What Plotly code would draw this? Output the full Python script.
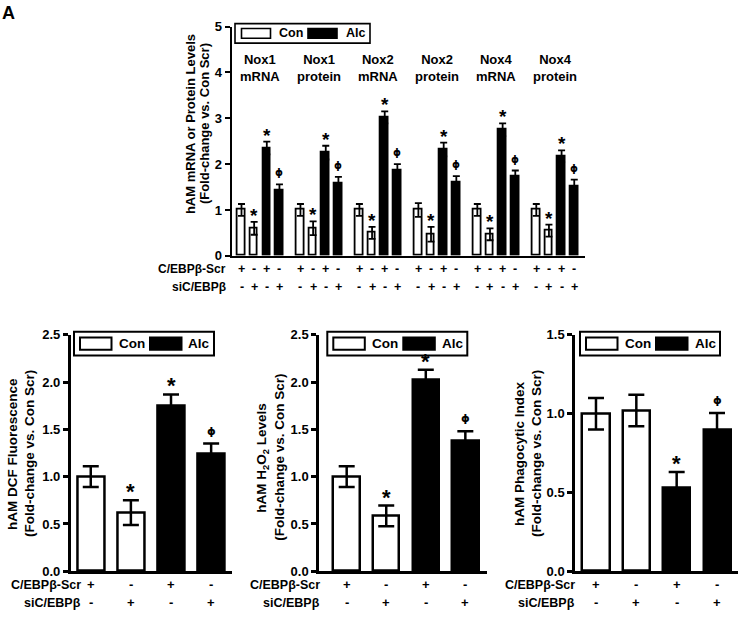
import plotly.graph_objects as go

W, H = 740, 619


def px(x):
    return x / W


def py(y):
    return 1 - y / H


# ---------------- data ----------------
top_groups = ["Nox1<br>mRNA", "Nox1<br>protein", "Nox2<br>mRNA",
              "Nox2<br>protein", "Nox4<br>mRNA", "Nox4<br>protein"]
top_con_scr = [1.00, 1.00, 1.00, 1.00, 1.00, 1.00]
top_con_si = [0.60, 0.60, 0.50, 0.47, 0.47, 0.55]
top_alc_scr = [2.35, 2.25, 3.02, 2.32, 2.75, 2.17]
top_alc_si = [1.42, 1.58, 1.86, 1.59, 1.73, 1.52]
top_con_scr_err = [0.13, 0.13, 0.13, 0.15, 0.13, 0.13]
top_con_si_err = [0.14, 0.15, 0.13, 0.16, 0.13, 0.13]
top_alc_scr_err = [0.14, 0.15, 0.13, 0.15, 0.14, 0.13]
top_alc_si_err = [0.14, 0.14, 0.14, 0.15, 0.13, 0.14]
top_marks = ["", "*", "*", "ϕ"]

scr_signs = ["+", "-", "+", "-"]
si_signs = ["-", "+", "-", "+"]
row_labels = ["C/EBPβ-Scr", "siC/EBPβ"]
legend_labels = ["Con", "Alc"]

dcf_vals = [1.00, 0.62, 1.75, 1.24]
dcf_err = [0.11, 0.13, 0.12, 0.11]
dcf_marks = ["", "*", "*", "ϕ"]

h2o2_vals = [1.00, 0.585, 2.02, 1.375]
h2o2_err = [0.11, 0.11, 0.11, 0.105]
h2o2_marks = ["", "*", "*", "ϕ"]

phago_vals = [1.00, 1.02, 0.53, 0.90]
phago_err = [0.10, 0.10, 0.10, 0.105]
phago_marks = ["", "", "*", "ϕ"]

FONT = "Liberation Sans, Arial, Helvetica, sans-serif"
PHI_FONT = "DejaVu Sans, sans-serif"

fig = go.Figure()
shapes = []
annotations = []


def ann(text, x, y, size=12, xanchor="center", yanchor="middle", angle=0,
        xref="paper", yref="paper", weight="bold", yshift=0, family=FONT):
    annotations.append(dict(
        text=text, x=x, y=y, xref=xref, yref=yref, showarrow=False,
        xanchor=xanchor, yanchor=yanchor, textangle=angle, yshift=yshift,
        font=dict(family=family, size=size, color="black", weight=weight)))


def mark(sym, x, y, xref, yref, star_size, phi_size):
    if sym == "*":
        ann(sym, x, y, xref=xref, yref=yref, size=star_size, yanchor="bottom",
            weight="bold", yshift=-6)
    else:
        ann(sym, x, y, xref=xref, yref=yref, size=phi_size, yanchor="bottom",
            weight="bold", yshift=4, family=PHI_FONT)


def legend_box(left, top, w, h, sw, sh, pad, gap_txt, blk_off, size, bw):
    shapes.append(dict(type="rect", xref="paper", yref="paper",
                       x0=px(left), x1=px(left + w), y0=py(top), y1=py(top + h),
                       line=dict(color="black", width=bw), fillcolor="white"))
    cy = top + h / 2
    shapes.append(dict(type="rect", xref="paper", yref="paper",
                       x0=px(left + pad), x1=px(left + pad + sw),
                       y0=py(cy - sh / 2), y1=py(cy + sh / 2),
                       line=dict(color="black", width=bw), fillcolor="white"))
    ann(legend_labels[0], px(left + pad + sw + gap_txt), py(cy), size=size,
        xanchor="left")
    shapes.append(dict(type="rect", xref="paper", yref="paper",
                       x0=px(left + blk_off), x1=px(left + blk_off + sw),
                       y0=py(cy - sh / 2), y1=py(cy + sh / 2),
                       line=dict(color="black", width=bw), fillcolor="black"))
    ann(legend_labels[1], px(left + blk_off + sw + gap_txt), py(cy), size=size,
        xanchor="left")


# ---------------- top panel ----------------
GS = 4.66  # group step in bar units
top_sets = [(top_con_scr, top_con_scr_err), (top_con_si, top_con_si_err),
            (top_alc_scr, top_alc_scr_err), (top_alc_si, top_alc_si_err)]
con_x, con_y, con_e, alc_x, alc_y, alc_e = [], [], [], [], [], []
for gi in range(len(top_groups)):
    for j, (vals, errs) in enumerate(top_sets):
        xpos = gi * GS + j
        if j < 2:
            con_x.append(xpos); con_y.append(vals[gi]); con_e.append(errs[gi])
        else:
            alc_x.append(xpos); alc_y.append(vals[gi]); alc_e.append(errs[gi])
        if top_marks[j]:
            mark(top_marks[j], xpos, vals[gi] + errs[gi], "x", "y", 19, 10)
        ann(scr_signs[j], xpos, py(268.5), xref="x", size=12.5)
        ann(si_signs[j], xpos, py(286.5), xref="x", size=12.5)
    ann(top_groups[gi], gi * GS + 1.5, py(62.5), xref="x", size=13)

fig.add_trace(go.Bar(x=con_x, y=con_y, width=0.6, xaxis="x", yaxis="y",
                     marker=dict(color="white", line=dict(color="black", width=1.8)),
                     error_y=dict(type="data", array=con_e, color="black",
                                  thickness=1.8, width=3.5),
                     showlegend=False))
fig.add_trace(go.Bar(x=alc_x, y=alc_y, width=0.6, xaxis="x", yaxis="y",
                     marker=dict(color="black", line=dict(color="black", width=1.8)),
                     error_y=dict(type="data", array=alc_e, color="black",
                                  thickness=1.8, width=3.5),
                     showlegend=False))

ann(row_labels[0], px(228), py(268.5), size=12, xanchor="right")
ann(row_labels[1], px(228), py(286.5), size=12, xanchor="right")
ann("hAM mRNA or Protein Levels", px(190), py(120), size=13, angle=-90)
ann("(Fold-change vs. Con Scr)", px(204), py(120), size=13, angle=-90)
legend_box(235, 17, 135, 20, 29, 10, 6.5, 6.5, 73, 12.5, 1.6)

# ---------------- bottom panels ----------------
bottom = [
    dict(vals=dcf_vals, err=dcf_err, marks=dcf_marks, ax=2, x0=70.7, x1=232,
         rng=[-0.5, 3.52], ymax=2.5, dtick=0.5,
         t1="hAM DCF Fluorescence", tx=(13, 30), ty=458, lab_r=83, leg=74),
    dict(vals=h2o2_vals, err=h2o2_err, marks=h2o2_marks, ax=3, x0=319, x1=486.7,
         rng=[-0.7, 3.54], ymax=2.5, dtick=0.5,
         t1="hAM H<sub>2</sub>O<sub>2</sub> Levels", tx=(263, 280), ty=462,
         lab_r=322, leg=327.3),
    dict(vals=phago_vals, err=phago_err, marks=phago_marks, ax=4, x0=575, x1=738,
         rng=[-0.52, 3.52], ymax=1.5, dtick=0.5,
         t1="hAM Phagocytic Index", tx=(520, 537), ty=458, lab_r=577, leg=580),
]

for p in bottom:
    n = p["ax"]
    xa, ya = f"x{n}", f"y{n}"
    fig.add_trace(go.Bar(x=[0, 1], y=p["vals"][:2], width=0.67, xaxis=xa, yaxis=ya,
                         marker=dict(color="white", line=dict(color="black", width=2.5)),
                         error_y=dict(type="data", array=p["err"][:2], color="black",
                                      thickness=2.5, width=8),
                         showlegend=False))
    fig.add_trace(go.Bar(x=[2, 3], y=p["vals"][2:], width=0.67, xaxis=xa, yaxis=ya,
                         marker=dict(color="black", line=dict(color="black", width=2.5)),
                         error_y=dict(type="data", array=p["err"][2:], color="black",
                                      thickness=2.5, width=8),
                         showlegend=False))
    for j in range(4):
        if p["marks"][j]:
            mark(p["marks"][j], j, p["vals"][j] + p["err"][j], xa, ya, 22, 11)
        ann(scr_signs[j], j, py(592), xref=xa, size=13)
        ann(si_signs[j], j, py(610.5), xref=xa, size=13)
    ann(row_labels[0], px(p["lab_r"]), py(592), size=12.5, xanchor="right")
    ann(row_labels[1], px(p["lab_r"]), py(610.5), size=12.5, xanchor="right")
    ann(p["t1"], px(p["tx"][0]), py(p["ty"]), size=13.5, angle=-90)
    ann("(Fold-change vs. Con Scr)", px(p["tx"][1]), py(p["ty"]), size=13.5, angle=-90)
    legend_box(p["leg"], 332.7, 140, 24.5, 31.5, 12.5, 6, 5, 76, 13.5, 2)

# panel letter
ann("A", px(8), py(6), size=18)

tickfont = dict(family=FONT, size=13, color="black", weight="bold")
layout = dict(
    width=W, height=H, margin=dict(l=0, r=0, t=0, b=0), autosize=False,
    paper_bgcolor="white", plot_bgcolor="white",
    bargap=0, barmode="overlay",
    shapes=shapes, annotations=annotations, showlegend=False,
    xaxis=dict(domain=[px(231.5), px(585)], range=[-0.79, 27.15], anchor="y",
               showline=True, linecolor="black", linewidth=2, showgrid=False,
               zeroline=False, showticklabels=False, ticks="", fixedrange=True),
    yaxis=dict(domain=[py(255), py(20)], range=[0, 5], dtick=1, anchor="x",
               showline=True, linecolor="black", linewidth=2, showgrid=False,
               zeroline=False, ticks="outside", ticklen=5, tickwidth=2,
               tickcolor="black", tickfont=tickfont),
)
for p in bottom:
    n = p["ax"]
    layout[f"xaxis{n}"] = dict(domain=[px(p["x0"]), px(p["x1"])], range=p["rng"],
                               anchor=f"y{n}", showline=True, linecolor="black",
                               linewidth=2.5, showgrid=False, zeroline=False,
                               showticklabels=False, ticks="")
    layout[f"yaxis{n}"] = dict(domain=[py(578.3), py(336)], range=[0, p["ymax"]],
                               dtick=p["dtick"], tickformat=".1f", anchor=f"x{n}",
                               showline=True, linecolor="black", linewidth=2.5,
                               showgrid=False, zeroline=False, ticks="outside",
                               ticklen=5, tickwidth=2.5, tickcolor="black",
                               tickfont=tickfont)
fig.update_layout(**layout)
fig.write_html("out.html",
               config={"displayModeBar": False},
               post_script="document.body.style.margin='0';"
                           "document.body.style.overflow='hidden';")
